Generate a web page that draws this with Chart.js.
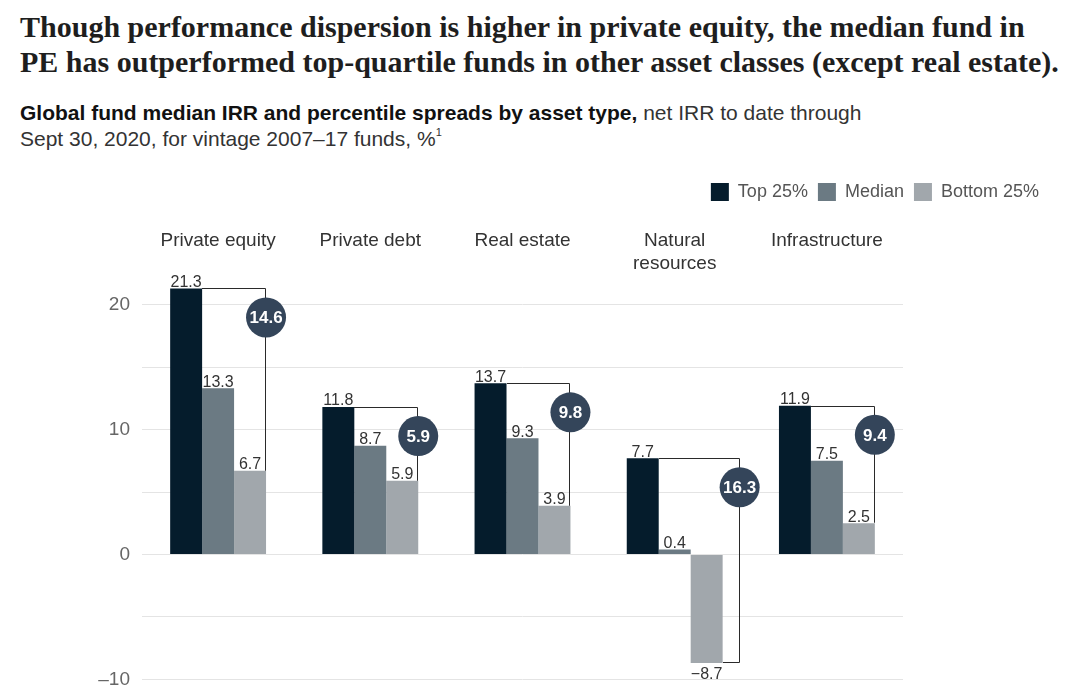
<!DOCTYPE html>
<html><head><meta charset="utf-8">
<script src="https://cdn.jsdelivr.net/npm/chart.js@4"></script>
<style>
body{margin:0;background:#fff;width:1080px;height:698px;overflow:hidden;position:relative}
#t{position:absolute;left:20px;top:9px;font:bold 30px "Liberation Serif",serif;color:#1e1e1e;line-height:35px;white-space:nowrap}
#s{position:absolute;left:20px;top:100px;font:21px "Liberation Sans",sans-serif;color:#333;line-height:26px;white-space:nowrap}
#s b{color:#111}
#s sup{font-size:11px;line-height:0;position:relative;top:-2px}
#wrap{position:absolute;left:0;top:0;width:1080px;height:698px}
</style></head>
<body>
<div id="t">Though performance dispersion is higher in private equity, the median fund in<br>PE has outperformed top-quartile funds in other asset classes (except real estate).</div>
<div id="s"><b>Global fund median IRR and percentile spreads by asset type,</b> net IRR to date through<br>Sept 30, 2020, for vintage 2007–17 funds, %<sup>1</sup></div>
<div id="wrap"><canvas id="c" width="1080" height="698"></canvas></div>
<script>
const categories = ["Private equity", "Private debt", "Real estate", ["Natural", "resources"], "Infrastructure"];
const seriesNames = ["Top 25%", "Median", "Bottom 25%"];
const top25 = [21.3, 11.8, 13.7, 7.7, 11.9];
const median = [13.3, 8.7, 9.3, 0.4, 7.5];
const bottom25 = [6.7, 5.9, 3.9, -8.7, 2.5];
const spreads = [14.6, 5.9, 9.8, 16.3, 9.4];
const yGridValues = [-10, -5, 0, 5, 10, 15, 20];
const yTickLabels = { "-10": "–10", "0": "0", "10": "10", "20": "20" };

const colors = ["#051c2c", "#6b7a83", "#a1a7ac"];
const SANS = '"Liberation Sans", Arial, sans-serif';

const overlay = {
  id: 'overlay',
  afterDatasetsDraw(chart) {
    const ctx = chart.ctx;
    const metas = [0, 1, 2].map(i => chart.getDatasetMeta(i));
    const series = [top25, median, bottom25];
    ctx.save();
    // brackets
    ctx.strokeStyle = '#2a2a2a';
    ctx.lineWidth = 1;
    categories.forEach((c, j) => {
      const tb = metas[0].data[j], bb = metas[2].data[j];
      const xL = Math.round(tb.x + tb.width / 2);
      const yT = Math.round(tb.y) + 0.5;
      const xR0 = Math.round(bb.x + bb.width / 2);
      const xR = xR0 + (bottom25[j] < 0 ? 17 : 0) - 0.5;
      const yB = Math.round(bb.y) - 0.5;
      ctx.beginPath();
      ctx.moveTo(xL, yT); ctx.lineTo(xR, yT); ctx.lineTo(xR, yB); ctx.lineTo(xR0, yB);
      ctx.stroke();
    });
    // value labels
    ctx.fillStyle = '#333';
    ctx.font = '16px ' + SANS;
    ctx.textAlign = 'center';
    series.forEach((arr, i) => {
      arr.forEach((v, j) => {
        const b = metas[i].data[j];
        if (v >= 0) { ctx.textBaseline = 'bottom'; ctx.fillText(v.toFixed(1), b.x, b.y + 2); }
        else { ctx.textBaseline = 'top'; ctx.fillText('−' + Math.abs(v).toFixed(1), b.x, b.y + 3); }
      });
    });
    // circles
    categories.forEach((c, j) => {
      const tb = metas[0].data[j], bb = metas[2].data[j];
      const xR = bb.x + bb.width / 2 + (bottom25[j] < 0 ? 17 : 0);
      const cy = tb.y + 29;
      ctx.beginPath();
      ctx.arc(xR, cy, 20, 0, Math.PI * 2);
      ctx.fillStyle = '#34455a';
      ctx.fill();
      ctx.fillStyle = '#fff';
      ctx.font = 'bold 17px ' + SANS;
      ctx.textBaseline = 'middle';
      ctx.fillText(spreads[j].toFixed(1), xR, cy + 1);
    });
    // category labels
    const xs = chart.scales.x;
    ctx.fillStyle = '#333';
    ctx.font = '19px ' + SANS;
    ctx.textBaseline = 'middle';
    categories.forEach((c, j) => {
      const lines = Array.isArray(c) ? c : [c];
      const x = xs.getPixelForValue(j);
      lines.forEach((ln, k) => ctx.fillText(ln, x, 241 + k * 23));
    });
    ctx.restore();
  }
};

new Chart(document.getElementById('c'), {
  type: 'bar',
  data: {
    labels: categories,
    datasets: [
      { label: seriesNames[0], data: top25, backgroundColor: colors[0] },
      { label: seriesNames[1], data: median, backgroundColor: colors[1] },
      { label: seriesNames[2], data: bottom25, backgroundColor: colors[2] }
    ]
  },
  options: {
    responsive: false,
    animation: false,
    layout: { padding: { top: 173, bottom: 9, left: 0, right: 31 } },
    datasets: { bar: { barPercentage: 1, categoryPercentage: 0.63, borderWidth: 0 } },
    plugins: {
      legend: {
        position: 'top', align: 'end',
        labels: { boxWidth: 18, boxHeight: 18, padding: 10, color: '#555', font: { size: 18, family: SANS } }
      },
      tooltip: { enabled: false }
    },
    scales: {
      x: { display: false },
      y: {
        min: -10, max: 27.5,
        afterFit(s) { s.width = 142; },
        afterBuildTicks(s) { s.ticks = yGridValues.map(v => ({ value: v })); },
        ticks: { stepSize: 5, padding: 12, color: '#666', font: { size: 19, family: SANS, lineHeight: 0.7 },
          callback: v => yTickLabels[String(v)] || '' },
        grid: { color: '#e4e4e4', drawTicks: false },
        border: { display: false }
      },
      yR: {
        position: 'right', display: true,
        afterFit(s) { s.width = 146; },
        ticks: { display: false }, grid: { display: false }, border: { display: false }
      }
    }
  },
  plugins: [overlay]
});
</script>
</body></html>
